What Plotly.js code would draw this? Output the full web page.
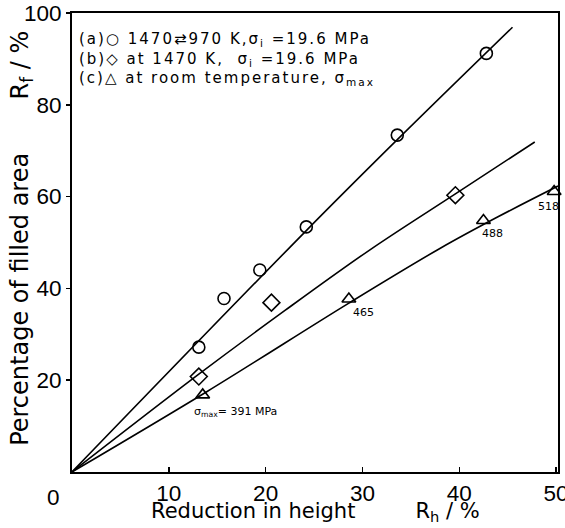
<!DOCTYPE html>
<html><head><meta charset="utf-8">
<script src="https://cdn.plot.ly/plotly-3.0.1.min.js"></script>
<style>body{margin:0;background:#fff}#chart{width:565px;height:528px}</style>
</head><body><div id="chart"></div>
<script>
// Measured points
const aX = [13.1, 15.7, 19.4, 24.2, 33.6, 42.8];
const aY = [27.2, 37.8, 44.0, 53.4, 73.4, 91.2];
const bX = [13.1, 20.6, 39.6];
const bY = [20.8, 36.9, 60.3];
const cX = [13.5, 28.6, 42.5, 49.8];
const cY = [16.8, 37.7, 54.8, 61.1];
const cLabels = ["σ<sub>max</sub>= 391 MPa", "465", "488", "518"];
// Drawn curves
const aLineX = [0, 24.2, 33.6, 45.5];
const aLineY = [0, 52.6, 72.4, 96.9];
const bLineX = [0, 13.1, 22, 30.7, 39.6, 47.8];
const bLineY = [0, 21.3, 35.2, 48.3, 60.6, 71.9];
const cLineX = [0, 14, 28.6, 38, 44, 50.2];
const cLineY = [0, 17.6, 36.8, 48.7, 55.6, 62.3];
const xTicks = [10, 20, 30, 40, 50];
const yTicks = [20, 40, 60, 80, 100];
const legendLines = [
  "(a)○ 1470⇄970 K,σ<sub>i</sub> =19.6 MPa",
  "(b)◇ at 1470 K,  σ<sub>i</sub> =19.6 MPa",
  "(c)△ at room temperature, σ<sub>max</sub>"
];

const F = "DejaVu Sans, sans-serif";
const NF = "Liberation Sans, Arial, sans-serif";
const line = (x, y) => ({x, y, mode: 'lines', type: 'scatter', line: {color: '#000', width: 1.6, shape: 'spline', smoothing: 1}, hoverinfo: 'skip', showlegend: false});
const mk = (x, y, sym, size) => ({x, y, mode: 'markers', type: 'scatter', showlegend: false, cliponaxis: false,
  marker: {symbol: sym, size: size, color: '#000', line: {width: 1.6, color: '#000'}}});

const data = [
  line(aLineX, aLineY), line(bLineX, bLineY), line(cLineX, cLineY),
  mk(aX, aY, 'circle-open', 12), mk(bX, bY, 'diamond-open', 13), mk(cX, cY, 'triangle-up-open', 12)
];

const labelOffsets = [[-1.1, -3.7], [0.2, -3.0], [-0.4, -2.9], [-1.9, -3.3]];
const annotations = cX.map((x, i) => ({
  x: x + labelOffsets[i][0], y: cY[i] + labelOffsets[i][1], xref: 'x', yref: 'y',
  text: cLabels[i], showarrow: false, xanchor: 'left', yanchor: 'middle',
  font: {family: F, size: 11, color: '#000'}
}));
annotations.push({
  x: 0.01, y: 0.9, xref: 'paper', yref: 'paper', text: legendLines.join('<br>'), showarrow: false,
  xanchor: 'left', yanchor: 'middle', align: 'left', font: {family: F, size: 15, color: '#000'}
});
annotations.push({x: 0, y: 0, xref: 'x', yref: 'y', text: '0', showarrow: false, xanchor: 'center', yanchor: 'top',
  xshift: -19, yshift: -11, font: {family: NF, size: 22.5, color: '#000'}});
// y axis title
annotations.push({x: -0.103, y: 0.51, xref: 'paper', yref: 'paper', textangle: -90, showarrow: false,
  xanchor: 'center', yanchor: 'middle',
  text: 'Percentage of filled area       R<sub>f</sub> / %', font: {family: F, size: 24, color: '#000'}});
// x axis title
annotations.push({x: 0.5, y: -0.088, xref: 'paper', yref: 'paper', showarrow: false,
  xanchor: 'center', yanchor: 'middle',
  text: 'Reduction in height         R<sub>h</sub> / %', font: {family: F, size: 21, color: '#000'}});

const layout = {
  width: 565, height: 528,
  margin: {l: 72, r: 7, t: 13, b: 56},
  paper_bgcolor: '#fff', plot_bgcolor: '#fff',
  font: {family: F, color: '#000'},
  showlegend: false,
  xaxis: {range: [0, 50.2], tickvals: xTicks, ticktext: xTicks.map(String), ticks: 'inside', ticklen: 5, tickwidth: 1.5,
    tickcolor: '#000', showgrid: false, zeroline: false, showline: true, mirror: true, linecolor: '#000', linewidth: 2,
    ticklabeloverflow: 'allow', tickfont: {family: NF, size: 22.5, color: '#000'}},
  yaxis: {range: [0, 100], tickvals: yTicks, ticktext: yTicks.map(String), ticks: 'outside', ticklen: 4, tickwidth: 1.5,
    tickcolor: '#000', showgrid: false, zeroline: false, showline: true, mirror: true, linecolor: '#000', linewidth: 2,
    ticklabeloverflow: 'allow', tickfont: {family: NF, size: 22.5, color: '#000'}},
  annotations
};
const gd = document.getElementById('chart');
Plotly.newPlot(gd, data, layout, {staticPlot: true}).then(() => {
  gd.querySelectorAll('.annotation-text').forEach(t => {
    if (t.textContent.indexOf('(a)') === 0) t.style.letterSpacing = '2px';
  });
});
</script></body></html>
